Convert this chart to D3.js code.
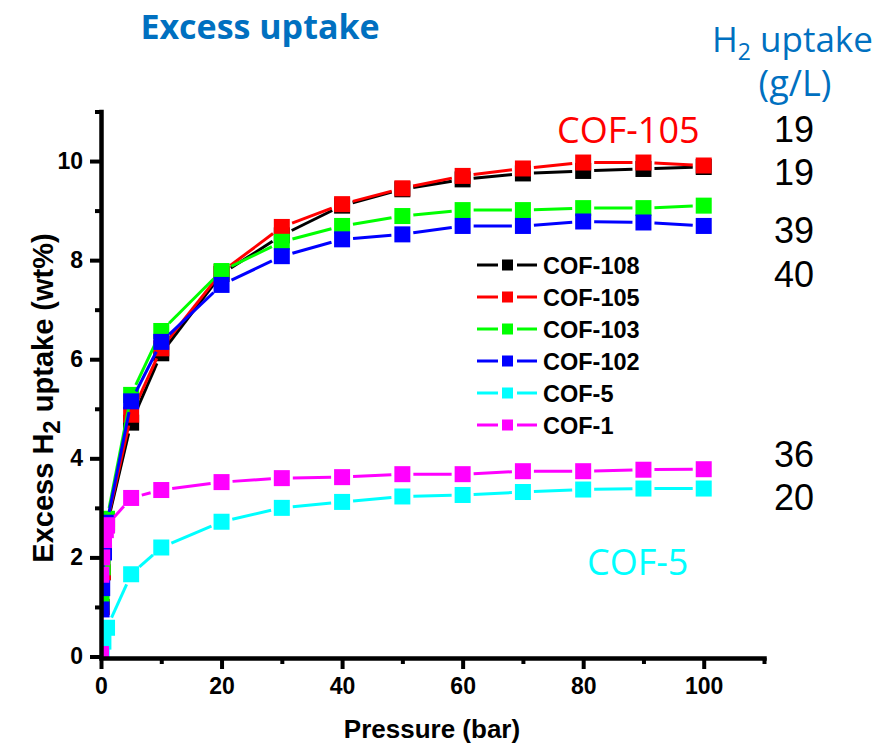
<!DOCTYPE html>
<html><head><meta charset="utf-8">
<script src="https://cdn.jsdelivr.net/npm/d3@7/dist/d3.min.js"></script>
<style>body{margin:0;background:#fff} svg{display:block}</style>
</head><body>
<svg id="chart" width="879" height="747"></svg>
<script>
// ---------------- data ----------------
const seriesNames  = ["COF-108", "COF-105", "COF-103", "COF-102", "COF-5", "COF-1"];
const seriesColors = ["#000000", "#ff0000", "#00ff00", "#0000ff", "#00ffff", "#ff00ff"];

// high-pressure points (bar)
const pressures = [5, 10, 20, 30, 40, 50, 60, 70, 80, 90, 100];
const cof108 = [4.72, 6.12, 7.72, 8.50, 9.10, 9.43, 9.63, 9.75, 9.80, 9.84, 9.88];
const cof105 = [4.88, 6.22, 7.76, 8.67, 9.13, 9.45, 9.70, 9.85, 9.97, 9.97, 9.91];
const cof103 = [5.28, 6.57, 7.78, 8.37, 8.69, 8.89, 9.01, 9.01, 9.05, 9.05, 9.10];
const cof102 = [5.15, 6.35, 7.50, 8.08, 8.42, 8.52, 8.69, 8.69, 8.78, 8.76, 8.69];
const cof5   = [1.66, 2.20, 2.72, 3.00, 3.12, 3.23, 3.26, 3.32, 3.37, 3.39, 3.39];
const cof1   = [3.20, 3.36, 3.52, 3.60, 3.62, 3.68, 3.68, 3.74, 3.74, 3.77, 3.78];

// low-pressure points [bar, wt%]
const low108 = [[0, 0.10], [0.1, 1.00], [0.3, 1.70], [1.0, 2.65]];
const low105 = [[0, 0.10], [0.1, 1.00], [0.3, 1.70], [1.0, 2.70]];
const low103 = [[0, 0.10], [0.1, 1.09], [0.3, 1.80], [1.0, 2.78]];
const low102 = [[0, 0.10], [0.1, 0.95], [0.2, 1.38], [0.5, 2.10], [1.0, 2.70]];
const low5   = [[0.1, 0.05], [0.4, 0.30], [1.0, 0.58]];
const low1   = [[0, 0.05], [0.05, 1.65], [0.2, 2.00], [0.5, 2.35], [0.8, 2.55], [1.0, 2.65]];

const xMajorTicks = [0, 20, 40, 60, 80, 100];
const xMinorTicks = [10, 30, 50, 70, 90, 110];
const yMajorTicks = [0, 2, 4, 6, 8, 10];
const yMinorTicks = [1, 3, 5, 7, 9, 11];

const uptakeLabels = ["19", "19", "39", "40", "36", "20"];

// ---------------- build ----------------
const highSets = [cof108, cof105, cof103, cof102, cof5, cof1];
const lowSets  = [low108, low105, low103, low102, low5, low1];
const series = seriesNames.map((name, i) => ({
  name, color: seriesColors[i],
  points: lowSets[i].map(d => ({p: d[0], v: d[1]}))
          .concat(pressures.map((p, j) => ({p, v: highSets[i][j]})))
}));

const svg = d3.select("#chart");
const x = d3.scaleLinear().domain([0, 110]).range([101, 764]);
const y = d3.scaleLinear().domain([0, 11]).range([656.5, 111.5]);

const tickFont = "'Liberation Sans', Arial, sans-serif";
const calibriLike = "'Open Sans', 'Noto Sans', sans-serif";

// clip
svg.append("defs").append("clipPath").attr("id", "plotclip")
  .append("rect").attr("x", 101).attr("y", 0).attr("width", 700).attr("height", 657.5);

// data
const plot = svg.append("g").attr("clip-path", "url(#plotclip)");
const gap = 11, ms = 16;
series.forEach(s => {
  const g = plot.append("g");
  const pts = s.points.map(d => [x(d.p), y(d.v)]);
  const segs = [];
  for (let k = 0; k < pts.length - 1; k++) {
    const [x1, y1] = pts[k], [x2, y2] = pts[k + 1];
    const L = Math.hypot(x2 - x1, y2 - y1);
    if (L <= 2 * gap) continue;
    const ux = (x2 - x1) / L, uy = (y2 - y1) / L;
    segs.push([x1 + ux * gap, y1 + uy * gap, x2 - ux * gap, y2 - uy * gap]);
  }
  g.selectAll("line").data(segs).join("line")
    .attr("x1", d => d[0]).attr("y1", d => d[1]).attr("x2", d => d[2]).attr("y2", d => d[3])
    .attr("stroke", s.color).attr("stroke-width", 3);
  g.selectAll("rect").data(s.points).join("rect")
    .attr("x", d => x(d.p) - ms / 2).attr("y", d => y(d.v) - ms / 2)
    .attr("width", ms).attr("height", ms).attr("fill", s.color);
});

// axes
function styleAxis(g) {
  g.select(".domain").attr("stroke", "#000").attr("stroke-width", 4.5).attr("stroke-linecap", "square");
  g.selectAll(".tick line").attr("stroke", "#000").attr("stroke-width", 4);
  g.selectAll(".tick text").attr("font-family", tickFont).attr("font-weight", "bold")
    .attr("font-size", 23).attr("fill", "#000");
}
const xAxisY = 658;
svg.append("g").attr("transform", `translate(0,${xAxisY})`)
  .call(d3.axisBottom(x).tickValues(xMinorTicks).tickSize(6).tickSizeOuter(0).tickFormat(""))
  .call(g => { g.select(".domain").remove(); g.selectAll(".tick line").attr("stroke", "#000").attr("stroke-width", 4); });
svg.append("g").attr("transform", `translate(0,${xAxisY})`)
  .call(d3.axisBottom(x).tickValues(xMajorTicks).tickSize(11).tickSizeOuter(0).tickPadding(9).tickFormat(d3.format("d")))
  .call(styleAxis);

svg.append("g").attr("transform", `translate(101,0)`)
  .call(d3.axisLeft(y).tickValues(yMinorTicks).tickSize(6).tickSizeOuter(0).tickFormat(""))
  .call(g => { g.select(".domain").remove(); g.selectAll(".tick line").attr("stroke", "#000").attr("stroke-width", 4); });
svg.append("g").attr("transform", `translate(101,0)`)
  .call(d3.axisLeft(y).tickValues(yMajorTicks).tickSize(11).tickSizeOuter(0).tickPadding(7).tickFormat(d3.format("d")))
  .call(styleAxis);

// axis titles
svg.append("text").attr("x", 432).attr("y", 738).attr("text-anchor", "middle")
  .attr("font-family", tickFont).attr("font-weight", "bold").attr("font-size", 26)
  .text("Pressure (bar)");
const yt = svg.append("text").attr("transform", "translate(53,398) rotate(-90)")
  .attr("text-anchor", "middle").attr("font-family", tickFont).attr("font-weight", "bold")
  .attr("font-size", 29);
yt.append("tspan").text("Excess H");
yt.append("tspan").attr("font-size", 24).attr("dy", 7).text("2");
yt.append("tspan").attr("dy", -7).text(" uptake (wt%)");

// legend
const leg = svg.append("g");
series.forEach((s, i) => {
  const cy = 265 + i * 32;
  const r = leg.append("g");
  r.append("line").attr("x1", 477).attr("x2", 498).attr("y1", cy).attr("y2", cy).attr("stroke", s.color).attr("stroke-width", 3);
  r.append("line").attr("x1", 517).attr("x2", 537).attr("y1", cy).attr("y2", cy).attr("stroke", s.color).attr("stroke-width", 3);
  r.append("rect").attr("x", 502).attr("y", cy - 5.5).attr("width", 11).attr("height", 11).attr("fill", s.color);
  r.append("text").attr("x", 543).attr("y", cy + 8.5).attr("font-family", tickFont)
    .attr("font-weight", "bold").attr("font-size", 23.5).text(s.name);
});

// annotations
svg.append("text").attr("x", 260).attr("y", 39).attr("text-anchor", "middle")
  .attr("font-family", calibriLike).attr("font-weight", "bold").attr("font-size", 34)
  .attr("fill", "#0070c0").text("Excess uptake");
const h2 = svg.append("text").attr("x", 712).attr("y", 52).attr("font-family", calibriLike)
  .attr("font-size", 35).attr("fill", "#0070c0");
h2.append("tspan").text("H");
h2.append("tspan").attr("font-size", 23).attr("dy", 8).text("2");
h2.append("tspan").attr("dy", -8).text(" uptake");
svg.append("text").attr("x", 795).attr("y", 96).attr("text-anchor", "middle")
  .attr("font-family", calibriLike).attr("font-size", 36).attr("fill", "#0070c0").text("(g/L)");
svg.append("text").attr("x", 557).attr("y", 143).attr("font-family", calibriLike)
  .attr("font-size", 36).attr("fill", "#ff0000").text("COF-105");
svg.append("text").attr("x", 587).attr("y", 575).attr("font-family", calibriLike)
  .attr("font-size", 36).attr("fill", "#00ffff").text("COF-5");
const labelBaselines = [142, 185, 243, 287, 467, 510];
svg.append("g").selectAll("text").data(uptakeLabels).join("text")
  .attr("x", 794).attr("y", (d, i) => labelBaselines[i]).attr("text-anchor", "middle")
  .attr("font-family", tickFont).attr("font-size", 36).attr("fill", "#000").text(d => d);
</script>
</body></html>
